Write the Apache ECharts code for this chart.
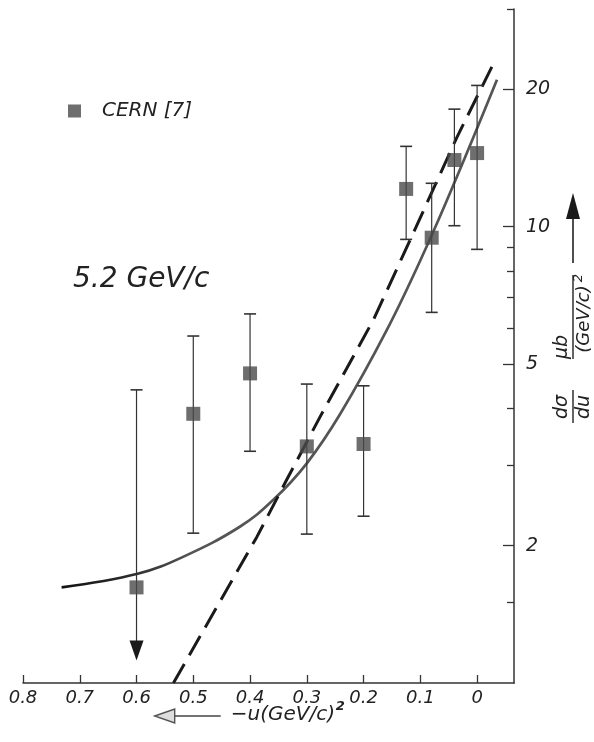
<!DOCTYPE html>
<html>
<head>
<meta charset="utf-8">
<script src="https://cdn.jsdelivr.net/npm/echarts@6/dist/echarts.min.js"></script>
<style>
  html, body { margin: 0; padding: 0; background: #fff; }
  #chart { width: 594px; height: 742px; }
</style>
</head>
<body>
<div id="chart"></div>
<script>
// 数据点（CERN [7]，5.2 GeV/c）
const uVals = [0.6, 0.5, 0.4, 0.3, 0.2, 0.125, 0.08, 0.04, 0.0];
const sigma = [1.62, 3.89, 4.77, 3.30, 3.34, 12.1, 9.46, 14.0, 14.5];
const errHigh = [4.39, 5.76, 6.44, 4.52, 4.48, 15.0, 12.45, 18.1, 20.4];
const errLow = [null, 2.13, 3.22, 2.12, 2.32, 9.38, 6.49, 10.05, 8.92];
// 0.6 处只有上限，箭头指向的值
const limitArrowTo = [1.12, null, null, null, null, null, null, null, null];

// 实线拟合
const solidU = [0.732, 0.598, 0.518, 0.418, 0.359, 0.300, 0.241, 0.159, 0.0915, 0.0356, -0.035];
const solidSigma = [1.62, 1.735, 1.89, 2.20, 2.52, 3.03, 3.89, 5.94, 8.90, 12.87, 21.0];

// 虚线拟合
const dashU = [0.535, 0.388, 0.338, 0.2767, 0.1827, 0.118, 0.0356, -0.032];
const dashSigma = [1.0, 2.09, 2.75, 3.83, 6.25, 9.35, 15.7, 23.2];

// 刻度
const xTickVals = [0.8, 0.7, 0.6, 0.5, 0.4, 0.3, 0.2, 0.1, 0];
const xTickLabels = ["0.8", "0.7", "0.6", "0.5", "0.4", "0.3", "0.2", "0.1", "0"];
const yMajorVals = [2, 5, 10, 20];
const yMajorLabels = ["2", "5", "10", "20"];
const yMinorVals = [1.5, 3, 4, 6, 7, 8, 9, 30];
const yMin = 1;
const yMax = 30;

const INK = "#222";
const FONT = "DejaVu Sans";
const lg = (v) => Math.log10(v);

const pickLabel = (vals, labels, v) => {
  let best = 0;
  vals.forEach((t, i) => {
    if (Math.abs(t - v) < Math.abs(vals[best] - v)) best = i;
  });
  return labels[best];
};
const yMajorLog = yMajorVals.map(lg);

const chart = echarts.init(document.getElementById("chart"), null, { renderer: "canvas" });

chart.setOption({
  animation: false,
  backgroundColor: "#fff",
  grid: { left: 23, right: 80, top: 9, bottom: 59, containLabel: false, outerBoundsMode: "none" },
  legend: {
    data: ["CERN [7]"],
    left: 63,
    top: 96,
    icon: "rect",
    itemWidth: 13,
    itemHeight: 13,
    itemGap: 0,
    textStyle: { color: INK, fontFamily: FONT, fontStyle: "italic", fontSize: 20, padding: [0, 0, 0, 16] },
  },
  xAxis: {
    type: "value",
    inverse: true,
    min: -0.065,
    max: 0.8,
    axisLine: { show: true, onZero: false, lineStyle: { color: "#333", width: 1.5 } },
    axisTick: { show: true, inside: true, length: 8, customValues: xTickVals, lineStyle: { color: "#333", width: 1.3 } },
    axisLabel: {
      customValues: xTickVals,
      formatter: (v) => pickLabel(xTickVals, xTickLabels, v),
      color: INK,
      fontFamily: FONT,
      fontStyle: "italic",
      fontSize: 18,
      margin: 6,
    },
    splitLine: { show: false },
  },
  yAxis: [
    {
      type: "value",
      position: "right",
      min: lg(yMin),
      max: lg(yMax),
      axisLine: { show: true, onZero: false, lineStyle: { color: "#333", width: 1.5 } },
      axisTick: { show: true, inside: true, length: 7, customValues: yMinorVals.map(lg), lineStyle: { color: "#333", width: 1.3 } },
      axisLabel: {
        customValues: yMajorLog,
        formatter: (v) => pickLabel(yMajorLog, yMajorLabels, v),
        color: INK,
        fontFamily: FONT,
        fontStyle: "italic",
        fontSize: 19,
        margin: 12,
      },
      splitLine: { show: false },
    },
    {
      type: "value",
      position: "right",
      min: lg(yMin),
      max: lg(yMax),
      axisLine: { show: false, onZero: false },
      axisTick: { show: true, inside: true, length: 11, customValues: yMajorLog, lineStyle: { color: "#333", width: 1.3 } },
      axisLabel: { show: false },
      splitLine: { show: false },
    },
  ],
  series: [
    {
      name: "fit",
      type: "line",
      data: solidU.map((u, i) => [u, lg(solidSigma[i])]),
      showSymbol: false,
      smooth: 0.4,
      silent: true,
      lineStyle: {
        width: 2.7,
        // 左端线条较黑
        color: new echarts.graphic.LinearGradient(0, 0, 1, 0, [
          { offset: 0, color: "#111" },
          { offset: 0.15, color: "#2a2a2a" },
          { offset: 0.3, color: "#555" },
          { offset: 1, color: "#555" },
        ]),
      },
      z: 2,
    },
    {
      name: "fit-dashed",
      type: "line",
      data: dashU.map((u, i) => [u, lg(dashSigma[i])]),
      showSymbol: false,
      silent: true,
      lineStyle: { color: "#1a1a1a", width: 3, type: [22, 10] },
      z: 2,
    },
    {
      name: "errors",
      type: "custom",
      silent: true,
      z: 3,
      data: uVals.map((u, i) => [u, lg(errHigh[i])]),
      renderItem: (params, api) => {
        const i = params.dataIndex;
        const u = api.value(0);
        const top = api.coord([u, lg(errHigh[i])]);
        const cap = 6;
        const stroke = { stroke: "#333", lineWidth: 1.2 };
        const children = [
          { type: "line", shape: { x1: top[0] - cap, y1: top[1], x2: top[0] + cap, y2: top[1] }, style: { stroke: "#333", lineWidth: 1.6 } },
        ];
        if (errLow[i] != null) {
          const bot = api.coord([u, lg(errLow[i])]);
          children.push(
            { type: "line", shape: { x1: top[0], y1: top[1], x2: bot[0], y2: bot[1] }, style: stroke },
            { type: "line", shape: { x1: bot[0] - cap, y1: bot[1], x2: bot[0] + cap, y2: bot[1] }, style: { stroke: "#333", lineWidth: 1.6 } }
          );
        } else if (limitArrowTo[i] != null) {
          const tip = api.coord([u, lg(limitArrowTo[i])]);
          children.push(
            { type: "line", shape: { x1: top[0], y1: top[1], x2: tip[0], y2: tip[1] - 10 }, style: stroke },
            { type: "polygon", shape: { points: [[tip[0], tip[1]], [tip[0] - 7, tip[1] - 20], [tip[0] + 7, tip[1] - 20]] }, style: { fill: "#1a1a1a" } }
          );
        }
        return { type: "group", children };
      },
    },
    {
      name: "CERN [7]",
      type: "scatter",
      symbol: "rect",
      symbolSize: 14,
      data: uVals.map((u, i) => [u, lg(sigma[i])]),
      itemStyle: { color: "#4a4a4a" },
      z: 5,
    },
  ],
  graphic: [
    {
      type: "text",
      left: 73,
      top: 266,
      style: { text: "5.2 GeV/c", fill: INK, font: "italic 28px 'DejaVu Sans'" },
    },
    // x 轴名称：箭头 + -u(GeV/c)^2
    {
      type: "group",
      left: 154,
      top: 700,
      children: [
        { type: "polygon", shape: { points: [[0, 12], [20, 5], [20, 19]] }, style: { fill: "#ddd", stroke: "#555", lineWidth: 1.4 } },
        { type: "line", shape: { x1: 20, y1: 12, x2: 66, y2: 12 }, style: { stroke: "#444", lineWidth: 1.6 } },
        { type: "text", x: 76, y: 1, style: { text: "−u(GeV/c)", fill: INK, font: "italic 20px 'DejaVu Sans'" } },
        { type: "text", x: 181, y: -4, style: { text: "2", fill: INK, font: "italic bold 13px 'DejaVu Sans'" } },
      ],
    },
    // y 轴名称（竖排）
    {
      type: "group",
      x: 573,
      y: 425,
      rotation: Math.PI / 2,
      children: [
        { type: "text", x: 18, y: -11, style: { text: "dσ", fill: INK, font: "italic 19px 'DejaVu Sans'", align: "center", verticalAlign: "middle" } },
        { type: "line", shape: { x1: 2, y1: 0, x2: 35, y2: 0 }, style: { stroke: INK, lineWidth: 1.4 } },
        { type: "text", x: 18, y: 11, style: { text: "du", fill: INK, font: "italic 19px 'DejaVu Sans'", align: "center", verticalAlign: "middle" } },
        { type: "text", x: 78, y: -11, style: { text: "μb", fill: INK, font: "italic 19px 'DejaVu Sans'", align: "center", verticalAlign: "middle" } },
        { type: "line", shape: { x1: 66, y1: 0, x2: 150, y2: 0 }, style: { stroke: INK, lineWidth: 1.4 } },
        { type: "text", x: 106, y: 11, style: { text: "(GeV/c)", fill: INK, font: "italic 18px 'DejaVu Sans'", align: "center", verticalAlign: "middle" } },
        { type: "text", x: 147, y: 6, style: { text: "2", fill: INK, font: "italic 13px 'DejaVu Sans'", align: "center", verticalAlign: "middle" } },
        { type: "line", shape: { x1: 162, y1: 0, x2: 212, y2: 0 }, style: { stroke: INK, lineWidth: 1.6 } },
        { type: "polygon", shape: { points: [[232, 0], [206, -7], [206, 7]] }, style: { fill: "#1a1a1a" } },
      ],
    },
  ],
});
</script>
</body>
</html>
